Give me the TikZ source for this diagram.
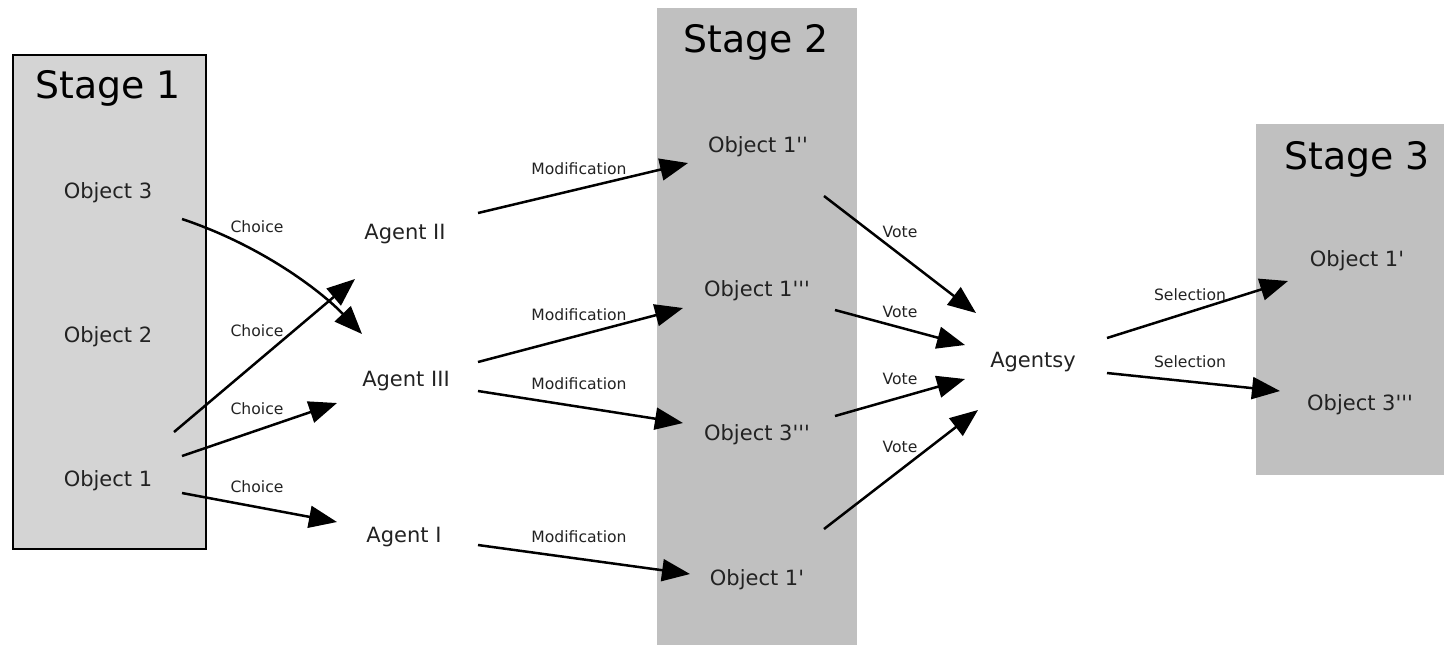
\documentclass[tikz,border=0pt]{standalone}
\usepackage{fontspec}
\setmainfont{DejaVu Sans}[Ligatures=TeXOff]
\usetikzlibrary{arrows.meta}
\definecolor{stagelight}{HTML}{D4D4D4}
\definecolor{stagedark}{HTML}{C0C0C0}
\definecolor{txt}{HTML}{222222}
\begin{document}
\begin{tikzpicture}[x=0.5pt,y=-0.5pt,
  title/.style={font=\fontsize{18.9}{20}\selectfont, text=black, inner sep=0pt},
  obj/.style={font=\fontsize{10.5}{12}\selectfont, text=txt, inner sep=0pt, text height=9.9pt, text depth=2.4pt},
  lab/.style={font=\fontsize{7.8}{9}\selectfont, text=txt, inner sep=0pt},
  arr/.style={line width=1.25pt, -{Triangle[length=14pt,width=11pt]}}]
\useasboundingbox (0,0) rectangle (1444,645);
% stage boxes
\fill[stagedark] (657,8) rectangle (857,645);
\fill[stagedark] (1256,124) rectangle (1444,475);
\draw[fill=stagelight, line width=1pt] (13,55) rectangle (206,549);
% titles
\node[title] (t1) at (108,88) {Stage 1};
\node[title] (t2) at (756,42) {Stage 2};
\node[title] (t3) at (1357,159) {Stage 3};
% stage 1 objects
\node[obj] (o3) at (108,191) {Object 3};
\node[obj] (o2) at (108,335) {Object 2};
\node[obj] (o1) at (108,479) {Object 1};
% agents
\node[obj] (a2) at (405,232) {Agent II};
\node[obj] (a3) at (406,379) {Agent III};
\node[obj] (a1) at (404,535) {Agent I};
% stage 2 objects
\node[obj] (s1pp) at (758,145) {Object 1''};
\node[obj] (s1ppp) at (757,289) {Object 1'''};
\node[obj] (s3ppp) at (757,433) {Object 3'''};
\node[obj] (s1p) at (757,578) {Object 1'};
% agentsy
\node[obj] (ay) at (1033,360) {Agentsy};
% stage 3 objects
\node[obj] (f1p) at (1357,259) {Object 1'};
\node[obj] (f3ppp) at (1360,403) {Object 3'''};
% choice arrows
\draw[arr] ([shift={(74,28)}]o3.center) .. controls ([shift={(152,54)}]o3.center) and ([shift={(212,99)}]o3.center) .. ([shift={(-44,-45)}]a3.center);
\draw[arr] ([shift={(66,-47)}]o1.center) -- ([shift={(-50,47)}]a2.center);
\draw[arr] ([shift={(74,-23)}]o1.center) -- ([shift={(-69,24)}]a3.center);
\draw[arr] ([shift={(74,14)}]o1.center) -- ([shift={(-67,-13)}]a1.center);
\node[lab] (c1) at (257,227) {Choice};
\node[lab] (c2) at (257,331) {Choice};
\node[lab] (c3) at (257,409) {Choice};
\node[lab] (c4) at (257,487) {Choice};
% modification arrows
\draw[arr] ([shift={(73,-19)}]a2.center) -- ([shift={(-70,18)}]s1pp.center);
\draw[arr] ([shift={(72,-17)}]a3.center) -- ([shift={(-74,19)}]s1ppp.center);
\draw[arr] ([shift={(72,12)}]a3.center) -- ([shift={(-74,-10)}]s3ppp.center);
\draw[arr] ([shift={(74,10)}]a1.center) -- ([shift={(-67,-4)}]s1p.center);
\node[lab] (m1) at (579,169) {Modification};
\node[lab] (m2) at (579,315) {Modification};
\node[lab] (m3) at (579,384) {Modification};
\node[lab] (m4) at (579,537) {Modification};
% vote arrows
\draw[arr] ([shift={(66,51)}]s1pp.center) -- ([shift={(-57,-47)}]ay.center);
\draw[arr] ([shift={(78,21)}]s1ppp.center) -- ([shift={(-68,-15)}]ay.center);
\draw[arr] ([shift={(78,-17)}]s3ppp.center) -- ([shift={(-68,19)}]ay.center);
\draw[arr] ([shift={(67,-49)}]s1p.center) -- ([shift={(-55,50)}]ay.center);
\node[lab] (v1) at (900,232) {Vote};
\node[lab] (v2) at (900,312) {Vote};
\node[lab] (v3) at (900,379) {Vote};
\node[lab] (v4) at (900,447) {Vote};
% selection arrows
\draw[arr] ([shift={(74,-22)}]ay.center) -- ([shift={(-69,22)}]f1p.center);
\draw[arr] ([shift={(74,13)}]ay.center) -- ([shift={(-80,-12)}]f3ppp.center);
\node[lab] (l1) at (1190,295) {Selection};
\node[lab] (l2) at (1190,362) {Selection};
\end{tikzpicture}
\end{document}
